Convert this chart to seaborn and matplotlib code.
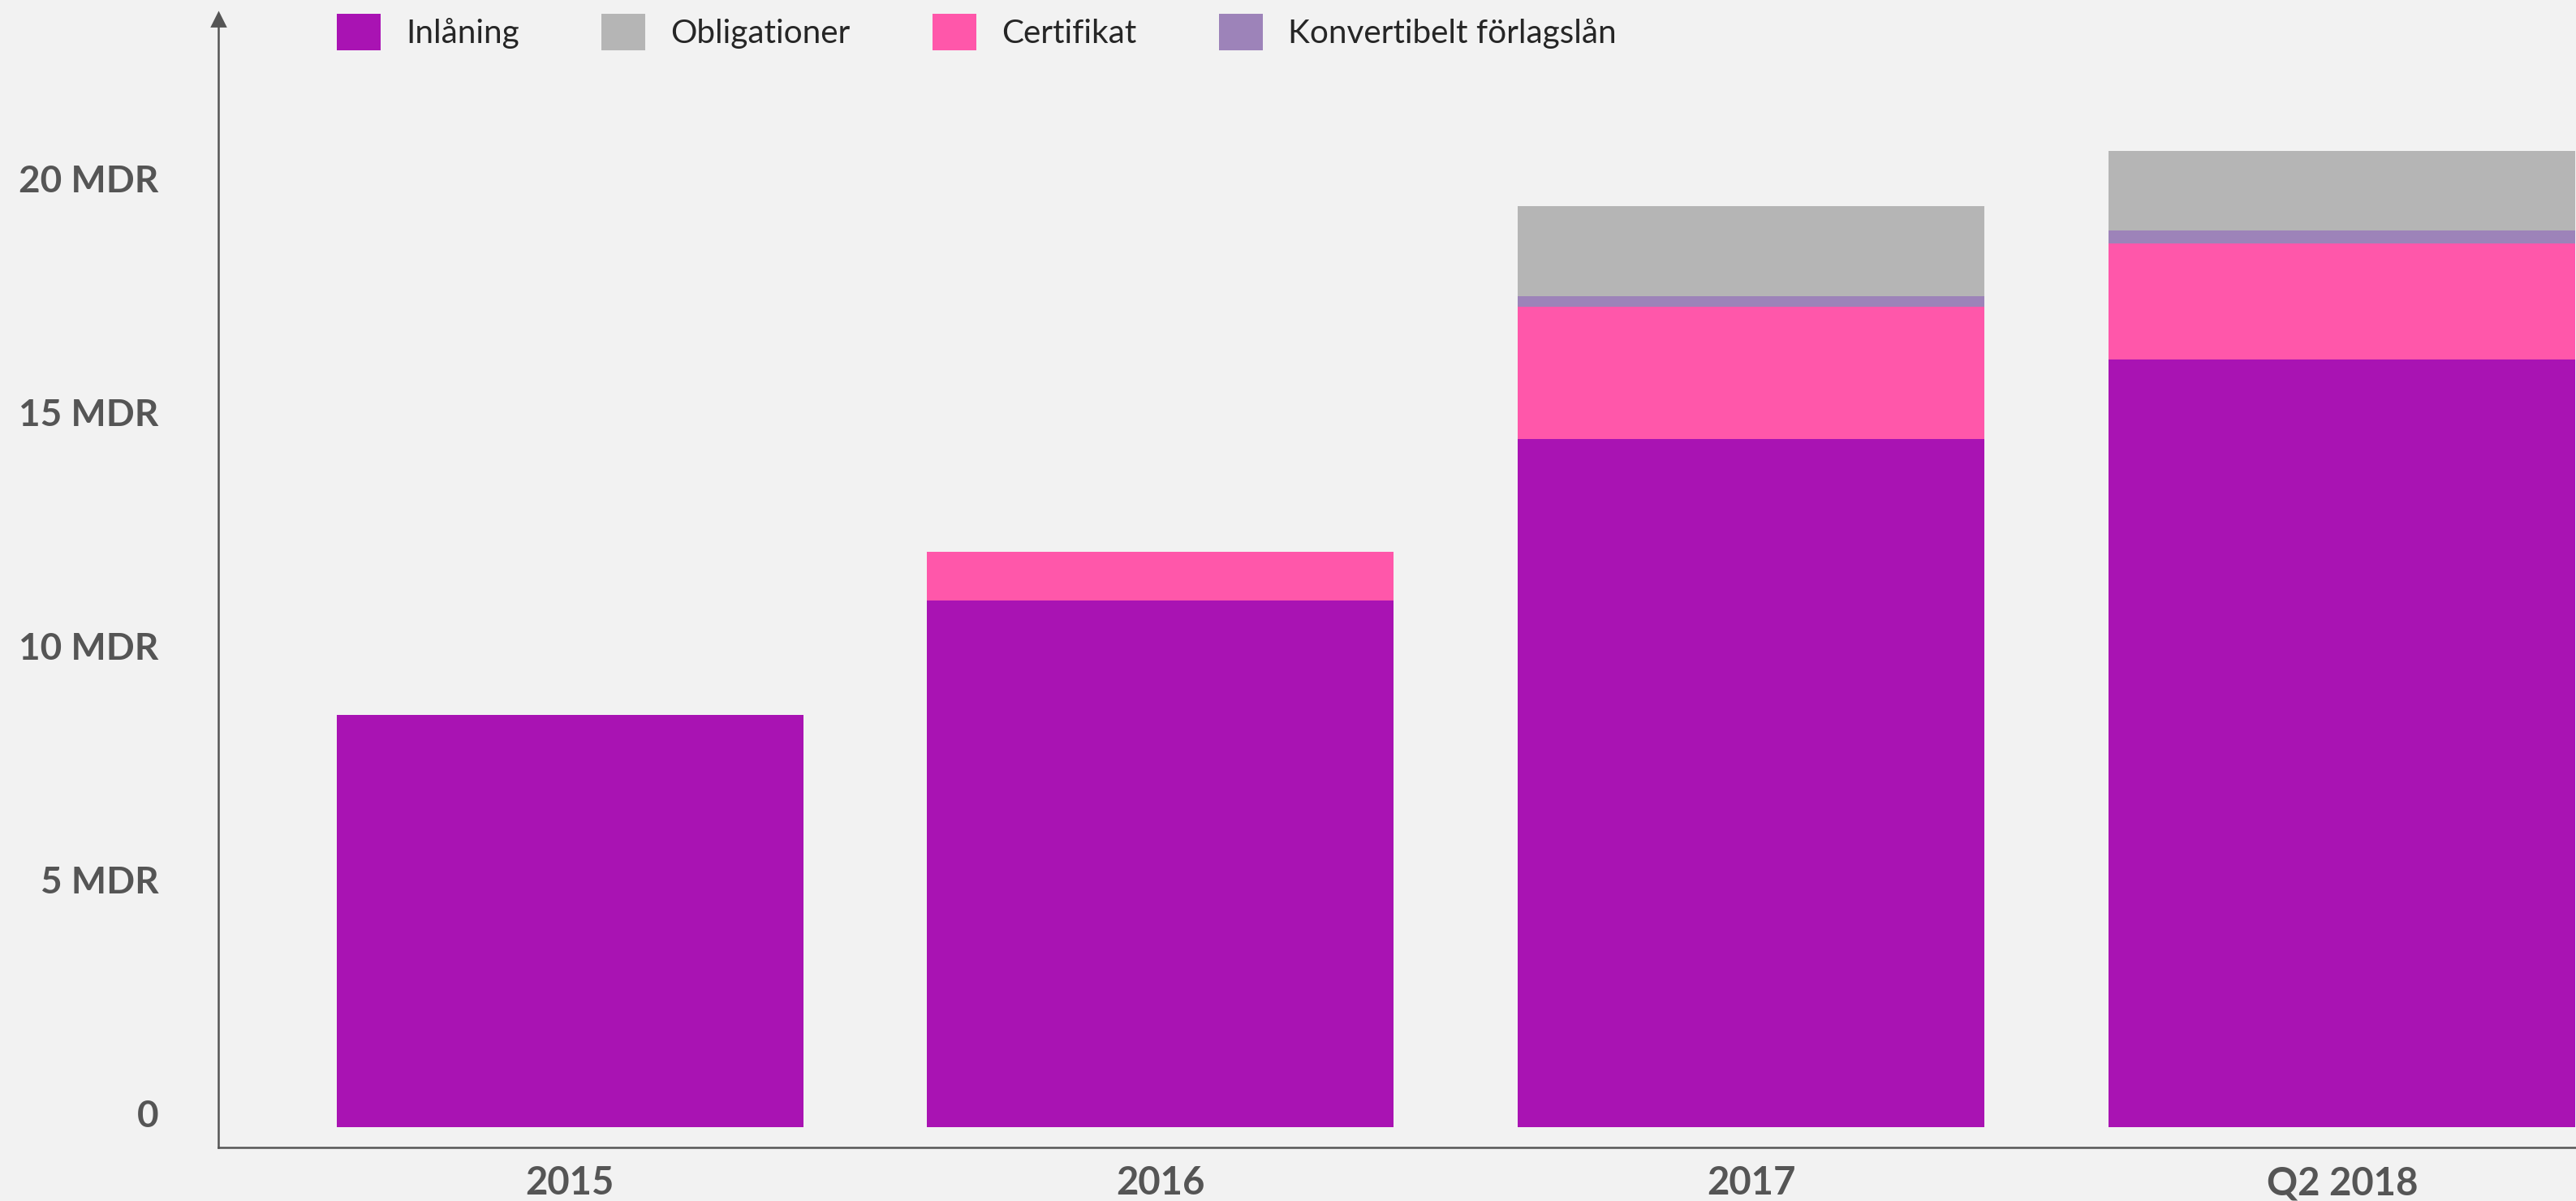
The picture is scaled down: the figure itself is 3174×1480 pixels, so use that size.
import pandas as pd
import seaborn as sns
import matplotlib.pyplot as plt
import matplotlib.transforms as mtransforms
from matplotlib.patches import Patch

# values in MDR (billion SEK)
years = ['2015', '2016', '2017', 'Q2 2018']
inlaning = [8.82, 11.26, 14.72, 16.42]
certifikat = [0.00, 1.05, 2.83, 2.48]
konvertibelt = [0.00, 0.00, 0.23, 0.28]
obligationer = [0.00, 0.00, 1.92, 1.70]

ytick_vals = [0, 5, 10, 15, 20]
ytick_labels = ['0', '5 MDR', '10 MDR', '15 MDR', '20 MDR']

colors = {
    'Inlåning': '#A913B3',
    'Obligationer': '#B5B5B5',
    'Certifikat': '#FF57AA',
    'Konvertibelt förlagslån': '#9D83B9',
}
bg = '#F2F2F2'
grey = '#555555'

df = pd.DataFrame({'year': years, 'Inlåning': inlaning, 'Certifikat': certifikat,
                   'Konvertibelt förlagslån': konvertibelt, 'Obligationer': obligationer})
# cumulative heights, drawn from the top layer down
df['c1'] = df['Inlåning']
df['c2'] = df['c1'] + df['Certifikat']
df['c3'] = df['c2'] + df['Konvertibelt förlagslån']
df['c4'] = df['c3'] + df['Obligationer']

sns.set_style('white')
plt.rcParams['font.family'] = ['Lato', 'DejaVu Sans']

fig = plt.figure(figsize=(3174 / 200, 1480 / 200), dpi=200, facecolor=bg)
ax = fig.add_axes([269 / 3174, 66 / 1480, 1 - 269 / 3174, (1414 - 24) / 1480])
ax.set_facecolor(bg)

layers = [('c4', 'Obligationer'), ('c3', 'Konvertibelt förlagslån'),
          ('c2', 'Certifikat'), ('c1', 'Inlåning')]
for col, name in layers:
    sns.barplot(data=df, x='year', y=col, color=colors[name], width=0.79,
                saturation=1, ax=ax, linewidth=0, clip_on=False)

ax.set_xlim(-0.595, 3.396)
ax.set_ylim(-0.44, 23.7)
ax.set_xlabel('')
ax.set_ylabel('')

sns.despine(ax=ax, top=True, right=True)
for s in ['left', 'bottom']:
    ax.spines[s].set_color(grey)
    ax.spines[s].set_linewidth(0.9)
ax.plot([0], [1], marker='^', color=grey, ms=5.5, transform=ax.transAxes, clip_on=False)

ax.set_yticks(ytick_vals)
ax.set_yticklabels(ytick_labels)
ax.tick_params(axis='y', length=0, pad=26.5, labelsize=16.5, labelcolor=grey)
ax.tick_params(axis='x', length=0, pad=8, labelsize=17, labelcolor=grey)
shift = mtransforms.ScaledTranslation(0, 6 / 72, fig.dpi_scale_trans)
for lab in ax.get_yticklabels():
    lab.set_fontweight('bold')
    lab.set_transform(lab.get_transform() + shift)
for lab in ax.get_xticklabels():
    lab.set_fontweight('bold')

handles = [Patch(facecolor=colors[n], edgecolor='none', label=n)
           for n in ['Inlåning', 'Obligationer', 'Certifikat', 'Konvertibelt förlagslån']]
fig.legend(handles=handles, loc='upper left', bbox_to_anchor=(415 / 3174, 1 - 17 / 1480),
           ncol=4, frameon=False, fontsize=14.6, handlelength=1.33, handleheight=1.33,
           handletextpad=0.77, columnspacing=2.5, borderpad=0, borderaxespad=0)

fig.savefig('out.png', dpi=200, facecolor=bg)
